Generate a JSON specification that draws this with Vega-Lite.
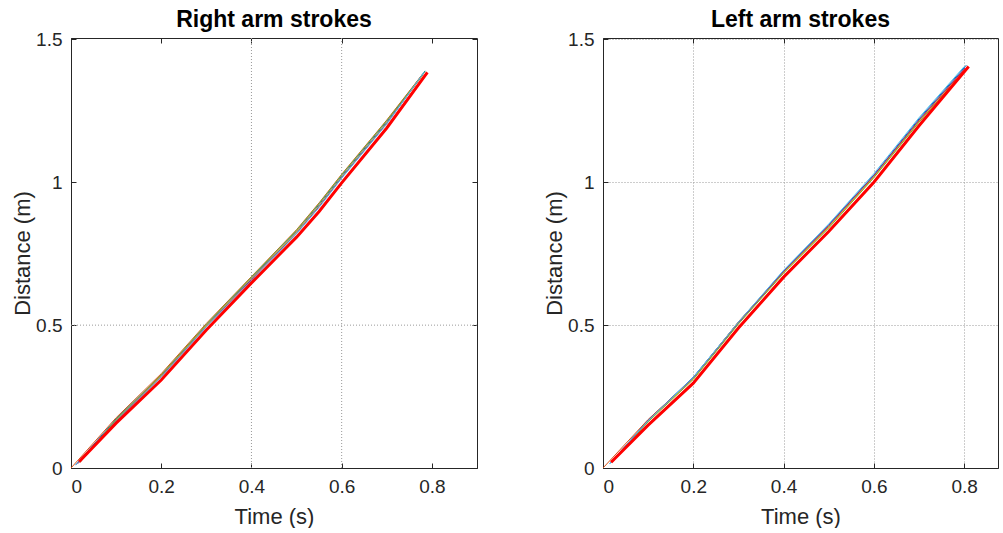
{
  "$schema": "https://vega.github.io/schema/vega-lite/v6.json",
  "background": "white",
  "padding": {"left": 11, "top": 8, "right": 0, "bottom": 0},
  "spacing": 65,
  "config": {
    "font": "Liberation Sans",
    "view": {"stroke": "#262626", "strokeWidth": 1},
    "title": {"fontSize": 23, "fontWeight": "bold", "color": "#000000", "offset": -2},
    "axis": {
      "labelFontSize": 19, "labelColor": "#262626", "labelFontWeight": "normal",
      "titleFontSize": 22, "titleFontWeight": "normal", "titleColor": "#262626",
      "domainColor": "#262626", "tickColor": "#262626", "tickSize": -5,
      "labelPadding": 14, "titlePadding": 6, "grid": false, "format": "~g"
    },
    "axisBottom": {"titlePadding": 10},
    "axisLeft": {"titlePadding": 1}
  },
  "datasets": {
    "rightArm": [
      {"trial": "T1", "t": 0.01, "d": 0.01}, {"trial": "T1", "t": 0.1, "d": 0.172}, {"trial": "T1", "t": 0.2, "d": 0.325}, {"trial": "T1", "t": 0.3, "d": 0.5}, {"trial": "T1", "t": 0.4, "d": 0.665}, {"trial": "T1", "t": 0.5, "d": 0.828}, {"trial": "T1", "t": 0.55, "d": 0.922}, {"trial": "T1", "t": 0.6, "d": 1.022}, {"trial": "T1", "t": 0.7, "d": 1.212}, {"trial": "T1", "t": 0.785, "d": 1.39},
      {"trial": "T2", "t": 0.0, "d": 0.0}, {"trial": "T2", "t": 0.1, "d": 0.176}, {"trial": "T2", "t": 0.2, "d": 0.33}, {"trial": "T2", "t": 0.3, "d": 0.506}, {"trial": "T2", "t": 0.4, "d": 0.67}, {"trial": "T2", "t": 0.5, "d": 0.834}, {"trial": "T2", "t": 0.55, "d": 0.928}, {"trial": "T2", "t": 0.6, "d": 1.028}, {"trial": "T2", "t": 0.7, "d": 1.218}, {"trial": "T2", "t": 0.78, "d": 1.38},
      {"trial": "T3", "t": 0.02, "d": 0.02}, {"trial": "T3", "t": 0.1, "d": 0.168}, {"trial": "T3", "t": 0.2, "d": 0.322}, {"trial": "T3", "t": 0.3, "d": 0.498}, {"trial": "T3", "t": 0.4, "d": 0.662}, {"trial": "T3", "t": 0.5, "d": 0.826}, {"trial": "T3", "t": 0.55, "d": 0.918}, {"trial": "T3", "t": 0.6, "d": 1.018}, {"trial": "T3", "t": 0.7, "d": 1.208}, {"trial": "T3", "t": 0.78, "d": 1.375},
      {"trial": "T4", "t": 0.015, "d": 0.015}, {"trial": "T4", "t": 0.1, "d": 0.165}, {"trial": "T4", "t": 0.2, "d": 0.32}, {"trial": "T4", "t": 0.3, "d": 0.495}, {"trial": "T4", "t": 0.4, "d": 0.66}, {"trial": "T4", "t": 0.5, "d": 0.822}, {"trial": "T4", "t": 0.55, "d": 0.915}, {"trial": "T4", "t": 0.6, "d": 1.016}, {"trial": "T4", "t": 0.7, "d": 1.206}, {"trial": "T4", "t": 0.782, "d": 1.382},
      {"trial": "T5", "t": 0.02, "d": 0.02}, {"trial": "T5", "t": 0.1, "d": 0.17}, {"trial": "T5", "t": 0.2, "d": 0.326}, {"trial": "T5", "t": 0.3, "d": 0.503}, {"trial": "T5", "t": 0.4, "d": 0.668}, {"trial": "T5", "t": 0.5, "d": 0.832}, {"trial": "T5", "t": 0.55, "d": 0.926}, {"trial": "T5", "t": 0.6, "d": 1.026}, {"trial": "T5", "t": 0.7, "d": 1.216}, {"trial": "T5", "t": 0.785, "d": 1.388},
      {"trial": "T6", "t": 0.02, "d": 0.02}, {"trial": "T6", "t": 0.1, "d": 0.164}, {"trial": "T6", "t": 0.2, "d": 0.318}, {"trial": "T6", "t": 0.3, "d": 0.494}, {"trial": "T6", "t": 0.4, "d": 0.656}, {"trial": "T6", "t": 0.5, "d": 0.82}, {"trial": "T6", "t": 0.55, "d": 0.912}, {"trial": "T6", "t": 0.6, "d": 1.014}, {"trial": "T6", "t": 0.7, "d": 1.204}, {"trial": "T6", "t": 0.783, "d": 1.386},
      {"trial": "mean", "t": 0.018, "d": 0.022}, {"trial": "mean", "t": 0.1, "d": 0.157}, {"trial": "mean", "t": 0.2, "d": 0.308}, {"trial": "mean", "t": 0.3, "d": 0.483}, {"trial": "mean", "t": 0.4, "d": 0.648}, {"trial": "mean", "t": 0.5, "d": 0.808}, {"trial": "mean", "t": 0.55, "d": 0.898}, {"trial": "mean", "t": 0.6, "d": 0.998}, {"trial": "mean", "t": 0.7, "d": 1.19}, {"trial": "mean", "t": 0.79, "d": 1.385}
    ],
    "leftArm": [
      {"trial": "T1", "t": 0.015, "d": 0.015}, {"trial": "T1", "t": 0.1, "d": 0.168}, {"trial": "T1", "t": 0.2, "d": 0.318}, {"trial": "T1", "t": 0.3, "d": 0.51}, {"trial": "T1", "t": 0.4, "d": 0.69}, {"trial": "T1", "t": 0.5, "d": 0.852}, {"trial": "T1", "t": 0.6, "d": 1.025}, {"trial": "T1", "t": 0.7, "d": 1.222}, {"trial": "T1", "t": 0.805, "d": 1.41},
      {"trial": "T2", "t": 0.0, "d": 0.0}, {"trial": "T2", "t": 0.1, "d": 0.17}, {"trial": "T2", "t": 0.2, "d": 0.314}, {"trial": "T2", "t": 0.3, "d": 0.512}, {"trial": "T2", "t": 0.4, "d": 0.686}, {"trial": "T2", "t": 0.5, "d": 0.846}, {"trial": "T2", "t": 0.6, "d": 1.02}, {"trial": "T2", "t": 0.7, "d": 1.215}, {"trial": "T2", "t": 0.8, "d": 1.395},
      {"trial": "T3", "t": 0.02, "d": 0.02}, {"trial": "T3", "t": 0.1, "d": 0.164}, {"trial": "T3", "t": 0.2, "d": 0.312}, {"trial": "T3", "t": 0.3, "d": 0.506}, {"trial": "T3", "t": 0.4, "d": 0.684}, {"trial": "T3", "t": 0.5, "d": 0.843}, {"trial": "T3", "t": 0.6, "d": 1.018}, {"trial": "T3", "t": 0.7, "d": 1.212}, {"trial": "T3", "t": 0.8, "d": 1.39},
      {"trial": "T4", "t": 0.02, "d": 0.02}, {"trial": "T4", "t": 0.1, "d": 0.167}, {"trial": "T4", "t": 0.2, "d": 0.316}, {"trial": "T4", "t": 0.3, "d": 0.508}, {"trial": "T4", "t": 0.4, "d": 0.688}, {"trial": "T4", "t": 0.5, "d": 0.849}, {"trial": "T4", "t": 0.6, "d": 1.024}, {"trial": "T4", "t": 0.7, "d": 1.218}, {"trial": "T4", "t": 0.802, "d": 1.4},
      {"trial": "T5", "t": 0.02, "d": 0.02}, {"trial": "T5", "t": 0.1, "d": 0.162}, {"trial": "T5", "t": 0.2, "d": 0.31}, {"trial": "T5", "t": 0.3, "d": 0.504}, {"trial": "T5", "t": 0.4, "d": 0.682}, {"trial": "T5", "t": 0.5, "d": 0.84}, {"trial": "T5", "t": 0.6, "d": 1.016}, {"trial": "T5", "t": 0.7, "d": 1.21}, {"trial": "T5", "t": 0.805, "d": 1.398},
      {"trial": "T6", "t": 0.015, "d": 0.015}, {"trial": "T6", "t": 0.1, "d": 0.166}, {"trial": "T6", "t": 0.2, "d": 0.317}, {"trial": "T6", "t": 0.3, "d": 0.511}, {"trial": "T6", "t": 0.4, "d": 0.692}, {"trial": "T6", "t": 0.5, "d": 0.854}, {"trial": "T6", "t": 0.6, "d": 1.03}, {"trial": "T6", "t": 0.7, "d": 1.226}, {"trial": "T6", "t": 0.8, "d": 1.405},
      {"trial": "mean", "t": 0.018, "d": 0.02}, {"trial": "mean", "t": 0.1, "d": 0.15}, {"trial": "mean", "t": 0.2, "d": 0.297}, {"trial": "mean", "t": 0.3, "d": 0.49}, {"trial": "mean", "t": 0.4, "d": 0.668}, {"trial": "mean", "t": 0.5, "d": 0.828}, {"trial": "mean", "t": 0.6, "d": 1.0}, {"trial": "mean", "t": 0.7, "d": 1.198}, {"trial": "mean", "t": 0.81, "d": 1.405}
    ],
    "leftGridX": [{"g": 0.4}, {"g": 0.6}],
    "leftGridY": [{"g": 0.5}]
  },
  "hconcat": [
    {
      "width": 406, "height": 430,
      "title": "Right arm strokes",
      "resolve": {"axis": {"x": "independent", "y": "independent"}},
      "layer": [
        {
          "data": {"name": "leftGridX"},
          "mark": {"type": "rule", "color": "#9a9a9a", "strokeDash": [1, 2], "strokeWidth": 1},
          "encoding": {"x": {"field": "g", "type": "quantitative", "scale": {"domain": [0, 0.9], "nice": false}, "axis": null}}
        },
        {
          "data": {"name": "leftGridY"},
          "mark": {"type": "rule", "color": "#9a9a9a", "strokeDash": [1, 2], "strokeWidth": 1},
          "encoding": {"y": {"field": "g", "type": "quantitative", "scale": {"domain": [0, 1.505], "nice": false}, "axis": null}}
        },
        {
          "data": {"name": "rightArm"},
          "transform": [{"filter": "datum.trial != 'mean'"}],
          "mark": {"type": "line", "strokeWidth": 1},
          "encoding": {
            "x": {"field": "t", "type": "quantitative", "scale": {"domain": [0, 0.9], "nice": false}, "axis": {"title": "Time (s)", "orient": "bottom", "values": [0, 0.2, 0.4, 0.6, 0.8]}},
            "y": {"field": "d", "type": "quantitative", "scale": {"domain": [0, 1.505], "nice": false}, "axis": {"title": "Distance (m)", "orient": "left", "values": [0, 0.5, 1, 1.5]}},
            "color": {"field": "trial", "type": "nominal", "scale": {"domain": ["T1", "T2", "T3", "T4", "T5", "T6"], "range": ["#0072BD", "#D95319", "#EDB120", "#7E2F8E", "#77AC30", "#4DBEEE"]}, "legend": null}
          }
        },
        {
          "data": {"name": "rightArm"},
          "transform": [{"filter": "datum.trial == 'mean'"}],
          "mark": {"type": "line", "strokeWidth": 3, "color": "#ff0000"},
          "encoding": {
            "x": {"field": "t", "type": "quantitative", "axis": {"title": null, "orient": "top", "labels": false, "domain": false, "values": [0, 0.2, 0.4, 0.6, 0.8]}},
            "y": {"field": "d", "type": "quantitative", "axis": {"title": null, "orient": "right", "labels": false, "domain": false, "values": [0, 0.5, 1, 1.5]}}
          }
        }
      ]
    },
    {
      "width": 395, "height": 430,
      "title": "Left arm strokes",
      "resolve": {"axis": {"x": "independent"}},
      "layer": [
        {
          "data": {"name": "leftArm"},
          "transform": [{"filter": "datum.trial != 'mean'"}],
          "mark": {"type": "line", "strokeWidth": 1},
          "encoding": {
            "x": {"field": "t", "type": "quantitative", "scale": {"domain": [0, 0.875], "nice": false}, "axis": {"title": "Time (s)", "orient": "bottom", "values": [0, 0.2, 0.4, 0.6, 0.8], "grid": true, "gridColor": "#9a9a9a", "gridDash": [1, 2], "gridOpacity": 1}},
            "y": {"field": "d", "type": "quantitative", "scale": {"domain": [0, 1.505], "nice": false}, "axis": {"title": "Distance (m)", "values": [0, 0.5, 1, 1.5], "grid": true, "gridColor": "#9a9a9a", "gridDash": [1, 2], "gridOpacity": 1}},
            "color": {"field": "trial", "type": "nominal", "scale": {"domain": ["T1", "T2", "T3", "T4", "T5", "T6"], "range": ["#0072BD", "#D95319", "#EDB120", "#7E2F8E", "#77AC30", "#4DBEEE"]}, "legend": null}
          }
        },
        {
          "data": {"name": "leftArm"},
          "transform": [{"filter": "datum.trial == 'mean'"}],
          "mark": {"type": "line", "strokeWidth": 3, "color": "#ff0000"},
          "encoding": {
            "x": {"field": "t", "type": "quantitative", "axis": {"title": null, "orient": "top", "labels": false, "domain": false, "values": [0, 0.2, 0.4, 0.6, 0.8]}},
            "y": {"field": "d", "type": "quantitative", "axis": {"title": "Distance (m)"}}
          }
        }
      ]
    }
  ]
}
